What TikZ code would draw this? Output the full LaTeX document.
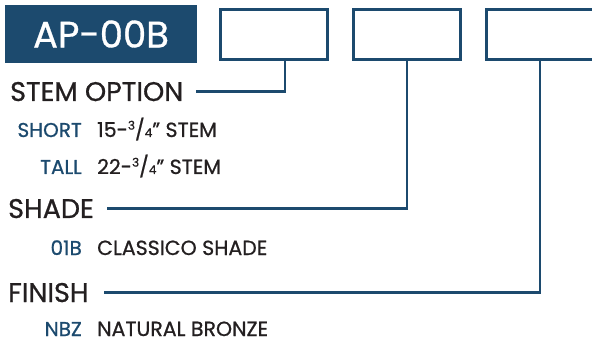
\documentclass[tikz,border=0pt]{standalone}
\usepackage{fontspec}
\setmainfont{Poppins}[UprightFeatures={FakeBold=0.8}]
\usepackage{xcolor}
\usetikzlibrary{positioning}
\definecolor{dblue}{HTML}{1C4A6E}
\definecolor{ink}{HTML}{231F20}
\newcommand\partfrac[2]{\raisebox{.36em}{\fontsize{12}{12}\selectfont#1}/{\fontsize{12}{12}\selectfont#2}}
\tikzstyle{codebox}=[draw=dblue,line width=2.6pt,minimum width=107pt,minimum height=50pt,inner sep=0pt]
\tikzstyle{head}=[font=\fontsize{27}{27}\selectfont,text=ink,inner sep=0pt,anchor=base west]
\tikzstyle{opt}=[font=\fontsize{20}{20}\selectfont,text=dblue,inner sep=0pt,anchor=base east]
\tikzstyle{desc}=[font=\fontsize{20.5}{20.5}\selectfont,text=ink,inner sep=0pt,anchor=base west]
\tikzstyle{lead}=[draw=dblue,line width=2.6pt]

\begin{document}
\begin{tikzpicture}[x=1pt,y=-1pt]
	\useasboundingbox (0,0) rectangle (592,342);
	\node[fill=dblue,minimum width=192pt,minimum height=58pt,inner sep=0pt,text=white,font=\fontsize{37}{37}\selectfont] (model) at (101,34) {AP-00B};
	\node[codebox] (stembox)   at (274,34.5) {};
	\node[codebox] (shadebox)  at (407,34.5) {};
	\node[codebox] (finishbox) at (540,34.5) {};
	\node[head] (stem) at (10,101) {STEM OPTION};
	\node[opt]  (short)  at (82,137) {SHORT};
	\node[desc] (shortd) at (97,137) {15-\partfrac34” STEM};
	\node[opt]  (tall)   at (82,174) {TALL};
	\node[desc] (talld)  at (97,174) {22-\partfrac34” STEM};
	\node[head] (shade) at (8,218) {SHADE};
	\node[opt]  (classico)  at (82,255) {01B};
	\node[desc] (classicod) at (97,255) {CLASSICO SHADE};
	\node[head] (finish) at (8,302) {FINISH};
	\node[opt]  (bronze)  at (82,336) {NBZ};
	\node[desc] (bronzed) at (97,336) {NATURAL BRONZE};
	\draw[lead] ([xshift=11pt]stembox.south) |- ([xshift=13pt]stem.east);
	\draw[lead] (shadebox.south) |- ([xshift=13pt]shade.east);
	\draw[lead] (finishbox.south) |- ([xshift=15pt]finish.east);
\end{tikzpicture}
\end{document}
